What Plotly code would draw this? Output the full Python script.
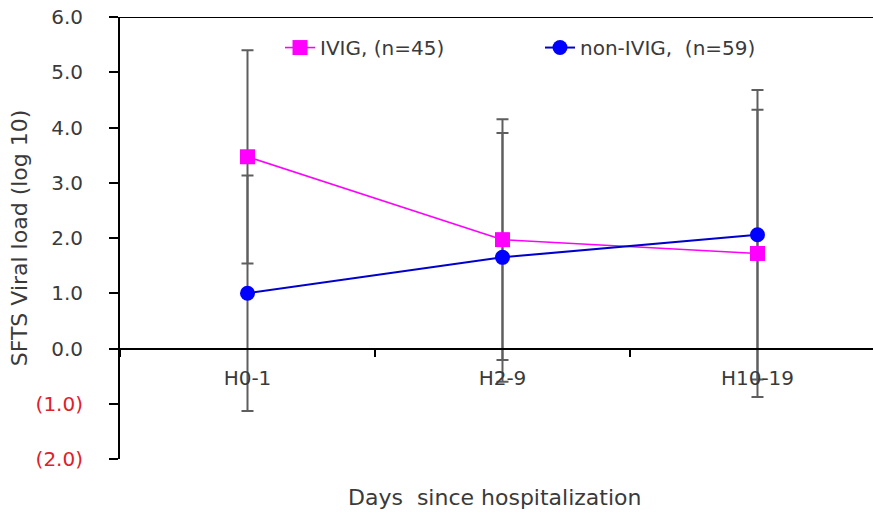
import plotly.graph_objects as go

# Sampling windows (days since hospitalization)
days = ["H0-1", "H2-9", "H10-19"]

# Mean SFTS viral load (log10) and SD per group
ivig_mean = [3.47, 1.97, 1.72]
ivig_sd = [1.93, 2.18, 2.60]
non_ivig_mean = [1.00, 1.65, 2.06]
non_ivig_sd = [2.13, 2.25, 2.62]

# Y axis ticks; negative values shown in parentheses and red
y_ticks = [6, 5, 4, 3, 2, 1, 0, -1, -2]
y_labels = ["6.0", "5.0", "4.0", "3.0", "2.0", "1.0", "0.0", "(1.0)", "(2.0)"]

FONT = "DejaVu Sans"
TXT = "#3A3A3A"
NEG = "#E0202A"
ERR = "#5E5E5E"
SIZE = 20

fig = go.Figure()

# error bars first, so both groups' markers sit on top of them
for mean, sd in ((ivig_mean, ivig_sd), (non_ivig_mean, non_ivig_sd)):
    fig.add_trace(go.Scatter(
        x=days, y=mean, mode="markers",
        marker=dict(size=1, opacity=0),
        error_y=dict(type="data", array=sd, visible=True,
                     color=ERR, thickness=2, width=6),
        showlegend=False, hoverinfo="skip",
    ))

fig.add_trace(go.Scatter(
    x=days, y=ivig_mean, mode="lines+markers", name="IVIG, (n=45)",
    line=dict(color="#FF00FF", width=1.6),
    marker=dict(symbol="square", size=15, color="#FF00FF"),
))
fig.add_trace(go.Scatter(
    x=days, y=non_ivig_mean, mode="lines+markers", name="non-IVIG,  (n=59)",
    line=dict(color="#0000CC", width=2),
    marker=dict(symbol="circle", size=15, color="#0000FF"),
))

tick_text = [
    f'<span style="color:{NEG}">{t}</span>' if v < 0 else t
    for v, t in zip(y_ticks, y_labels)
]

fig.update_layout(
    width=873, height=519,
    margin=dict(l=120, r=0, t=17, b=60),
    paper_bgcolor="white", plot_bgcolor="white",
    font=dict(family=FONT, size=SIZE, color=TXT),
    showlegend=True,
    legend=dict(
        orientation="h", x=0.2125, y=0.975, xanchor="left", yanchor="top",
        bgcolor="rgba(0,0,0,0)", font=dict(size=SIZE, color=TXT),
        entrywidth=215, entrywidthmode="pixels",
    ),
    xaxis=dict(
        type="category", range=[-0.5, 2.453],
        anchor="free", position=0.25,
        showline=True, linecolor="black", linewidth=2,
        showgrid=False, zeroline=False,
        ticks="outside", tickson="boundaries", ticklen=7,
        tickcolor="black", tickwidth=2,
        ticklabelstandoff=11,
        tickfont=dict(size=SIZE, color=TXT),
    ),
    yaxis=dict(
        range=[-2, 6], tickvals=y_ticks, ticktext=tick_text,
        showline=True, linecolor="black", linewidth=2,
        showgrid=False, zeroline=False,
        ticks="outside", ticklen=9, tickcolor="black", tickwidth=2,
        ticklabelstandoff=22,
        tickfont=dict(size=SIZE, color=TXT),
        title=dict(text="SFTS Viral load (log 10)", standoff=2,
                   font=dict(size=22, color=TXT)),
    ),
    shapes=[dict(type="line", xref="paper", yref="y", x0=0, x1=1, y0=6, y1=6,
                 line=dict(color="black", width=2))],
    annotations=[dict(
        text="Days  since hospitalization", xref="paper", yref="paper",
        x=0.498, y=0, yshift=-38, xanchor="center", yanchor="middle",
        showarrow=False, font=dict(size=22, color=TXT),
    )],
)

fig.write_html("out.html")
